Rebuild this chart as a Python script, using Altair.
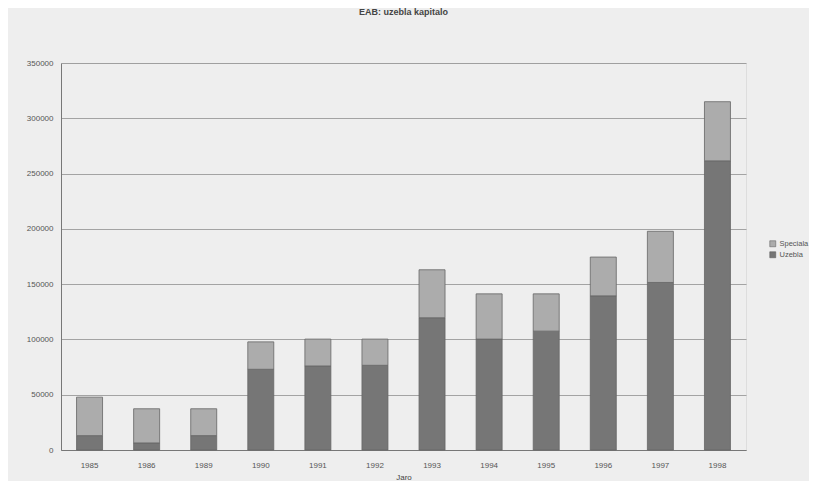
import altair as alt
import pandas as pd

years = ["1985", "1986", "1989", "1990", "1991", "1992", "1993", "1994", "1995", "1996", "1997", "1998"]
uzebla = [13000, 6400, 13000, 73000, 76000, 76600, 119600, 100300, 107500, 139400, 151500, 261500]
speciala = [34800, 30900, 24300, 24800, 24300, 23700, 43400, 40900, 33700, 35100, 46300, 53500]
series = ["Speciala", "Uzebla"]

rows = []
for y, u, s in zip(years, uzebla, speciala):
    rows.append({"Jaro": y, "serio": "Uzebla", "valoro": u, "ord": 0})
    rows.append({"Jaro": y, "serio": "Speciala", "valoro": s, "ord": 1})
df = pd.DataFrame(rows)

chart = alt.Chart(df).mark_bar(size=26, stroke="#666666", strokeWidth=0.8).encode(
    x=alt.X("Jaro:N", sort=years, title="Jaro",
            axis=alt.Axis(labelAngle=0, labelFontSize=8, labelColor="#555", titleFontSize=8,
                          titleColor="#444", titleFontWeight="normal", ticks=False,
                          domainColor="#777", labelPadding=11, titlePadding=4)),
    y=alt.Y("valoro:Q", stack="zero", title=None,
            scale=alt.Scale(domain=[0, 350000]),
            axis=alt.Axis(values=[0, 50000, 100000, 150000, 200000, 250000, 300000, 350000],
                          format="d", labelFontSize=8, labelColor="#555", gridColor="#8f8f8f",
                          gridWidth=0.8, ticks=False, domainColor="#777", labelPadding=8)),
    color=alt.Color("serio:N", scale=alt.Scale(domain=series, range=["#acacac", "#767676"]),
                    legend=alt.Legend(title=None, labelFontSize=7.5, labelColor="#555",
                                      symbolType="square", symbolSize=36, symbolStrokeColor="#555",
                                      symbolStrokeWidth=0.5, orient="none", labelOffset=3,
                                      legendX=708, legendY=177, rowPadding=2, labelLimit=0)),
    order=alt.Order("ord:Q"),
).properties(
    width=685, height=387,
    title=alt.TitleParams("EAB: uzebla kapitalo", fontSize=9, color="#444", fontWeight="bold",
                          anchor="middle", offset=42),
    background="#eeeeee",
    padding={"left": 18, "top": 0, "right": 0, "bottom": 0},
).configure_view(fill="#bbbbbb", stroke="#9a9a9a").configure(font="Liberation Sans")

chart.save("out.html", embed_options={"renderer": "svg", "actions": False})
